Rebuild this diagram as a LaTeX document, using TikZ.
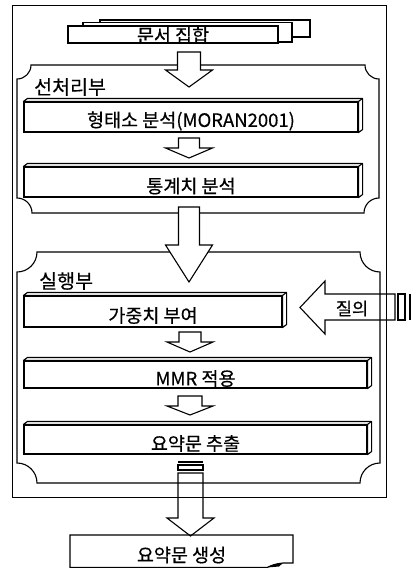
\documentclass[tikz,border=0pt]{standalone}
\usepackage{fontspec}
\setmainfont{Noto Sans CJK KR}[FakeBold=0.4]
\usetikzlibrary{calc}
\tikzset{
  lw/.style={line width=1.1pt},
  frontbox/.style={draw, line width=1.1pt, fill=white, inner sep=0pt},
  boxtext/.style={font=\fontsize{18.5}{18.5}\selectfont, inner sep=0pt},
  seclabel/.style={font=\fontsize{19.5}{19.5}\selectfont, anchor=west, inner sep=0pt},
  blockarr/.style={draw, line width=1.1pt, line join=miter, fill=white},
  openarr/.style={draw, line width=1.1pt, line join=miter},
  outerframe/.style={draw, line width=0.8pt},
  panel/.style={draw, line width=1.1pt},
}
\newcommand\tdbox[6]{%
  \node[frontbox, minimum width={#4-#2}, minimum height={#5-#3}] (#1) at ({(#2+#4)/2},{(#3+#5)/2}) {};
  \draw[lw, line join=round, fill=white] (#1.north west) -- ++(4,-3) -- ($(#1.north east)+(4,-3)$) -- ($(#1.south east)+(4,-3)$) -- (#1.south east) -- (#1.north east) -- cycle;
  \draw[lw] (#1.north east) -- ++(4,-3);
  \node[boxtext] (#1-t) at ($(#1.center)+(0,4)$) {#6};
}
\newcommand\downarr[7]{%
  \draw[#7] ({#1-#5},#2) -- ({#1+#5},#2) -- ({#1+#5},#3) -- ({#1+#6},#3) -- (#1,#4) -- ({#1-#6},#3) -- ({#1-#5},#3) -- cycle;
}
\newcommand\scallop[6]{%
  \draw[panel] ({#1+#5},#2) -- ({#3-#5},#2) arc[start angle=180, end angle=270, radius=#5pt]
    -- ({#3},{#4-#6}) arc[start angle=90, end angle=180, radius=#6pt]
    -- ({#1+#6},#4) arc[start angle=0, end angle=90, radius=#6pt]
    -- (#1,{#2+#5}) arc[start angle=270, end angle=360, radius=#5pt] -- cycle;
}
\begin{document}
\begin{tikzpicture}[x=1pt,y=-1pt]
\useasboundingbox (0,0) rectangle (411,568);
% outer frame
\draw[outerframe] (12,5) rectangle (386,497);
% panels
\scallop{17}{65}{379}{213}{14}{15}
\scallop{17}{252}{380}{483}{20}{20}
\node[seclabel] (pre) at (34,87) {선처리부};
\node[seclabel] (exe) at (39,281) {실행부};
% document set (stacked pages)
\draw[lw, fill=white] (100,20) rectangle (310,37);
\draw[lw, fill=white] (83,22.5) rectangle (292,42);
\node[frontbox, minimum width=210, minimum height=17] (docs) at (173,34.5) {};
\node[boxtext] (docs-t) at ($(docs.center)+(0,1)$) {문서 집합};
% boxes
\tdbox{morph}{24}{102}{358}{132}{형태소 분석(MORAN2001)}
\tdbox{stat}{24}{167}{358}{197}{통계치 분석}
\tdbox{weight}{24}{296}{282}{327}{가중치 부여}
\tdbox{mmr}{24}{361}{367}{388}{MMR 적용}
\tdbox{extract}{24}{425}{367}{454}{요약문 추출}
% filled block arrows
\downarr{189}{52}{70}{87}{11.5}{23.5}{blockarr}
\downarr{189}{138}{148}{158}{10.5}{23.5}{blockarr}
\downarr{189}{207}{245}{282}{10.5}{23.5}{blockarr}
\downarr{190}{332}{342}{352}{11}{23}{blockarr}
\downarr{190}{396}{406}{415}{12}{23}{blockarr}
% bottom output arrow
\draw[line width=2pt] (178,462) -- (203,462);
\draw[lw] (178,465) rectangle (203,470);
\downarr{190.5}{473}{518}{536}{12.5}{23.5}{openarr}
% final box with curled corner
\coordinate (fb-nw) at (70,535);
\draw[lw] (fb-nw) -- (293,535) -- (293,563) -- (283,563)
  .. controls (276,563.5) and (271,565.5) .. (267,567.5) -- (70,567.5) -- cycle;
\fill (267,567.5) .. controls (271,565.5) and (276,563.5) .. (283,563) -- (279,566.5) -- cycle;
\node[boxtext] (summary) at (181.5,555) {요약문 생성};
% query arrow
\draw[openarr] (300,307.5) -- (325,281) -- (325,294) -- (395,294) -- (395,320) -- (325,320) -- (325,334) -- cycle;
\draw[lw] (398,294) rectangle (405,320);
\draw[lw] (410,294) -- (410,320);
\node[font=\fontsize{17.5}{17.5}\selectfont, inner sep=0pt] (query) at (352,308.5) {질의};
\end{tikzpicture}
\end{document}
